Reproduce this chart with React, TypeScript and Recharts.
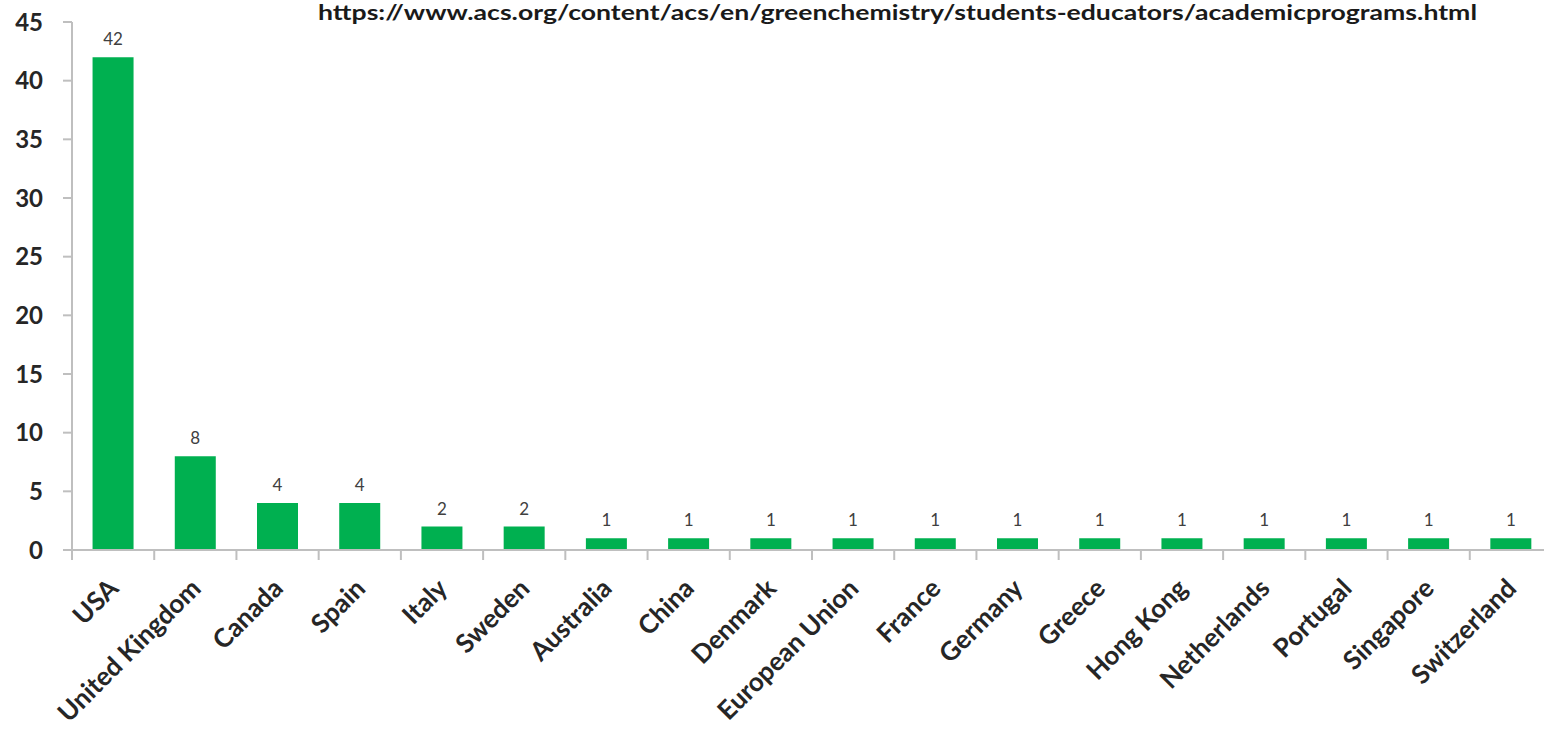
import React from 'react';
import { BarChart, Bar, XAxis, YAxis, LabelList } from 'recharts';

const countries = [
  'USA',
  'United Kingdom',
  'Canada',
  'Spain',
  'Italy',
  'Sweden',
  'Australia',
  'China',
  'Denmark',
  'European Union',
  'France',
  'Germany',
  'Greece',
  'Hong Kong',
  'Netherlands',
  'Portugal',
  'Singapore',
  'Switzerland',
];
const programs = [42, 8, 4, 4, 2, 2, 1, 1, 1, 1, 1, 1, 1, 1, 1, 1, 1, 1];
const yTicks = [0, 5, 10, 15, 20, 25, 30, 35, 40, 45];
const sourceUrl =
  'https://www.acs.org/content/acs/en/greenchemistry/students-educators/academicprograms.html';

const data = countries.map((country, i) => ({ country, programs: programs[i] }));

const CHART_W = 1560;
const CHART_H = 731;
const Y_AXIS_W = 72;
const RIGHT_GAP = 8;
const BAND = (CHART_W - Y_AXIS_W - RIGHT_GAP) / countries.length;
const FONT = 'Lato, "Open Sans", sans-serif';
const AXIS_GREY = '#bfbfbf';

// category label rotated 45deg, plus the tick between categories
const CountryTick = (props: any) => {
  const { x, y, payload } = props;
  const edge = x - BAND / 2;
  const tx = x + 7;
  const ty = y + 40;
  return (
    <g>
      <line x1={edge} y1={y} x2={edge} y2={y + 10} stroke={AXIS_GREY} strokeWidth={2} />
      <text
        x={tx}
        y={ty}
        textAnchor="end"
        transform={`rotate(-45, ${tx}, ${ty})`}
        fill="#262626"
        fontSize={26}
        fontWeight="bold"
        fontFamily={FONT}
      >
        {payload.value}
      </text>
    </g>
  );
};

export default function App() {
  return (
    <div
      style={{
        position: 'absolute',
        left: 0,
        top: 0,
        width: 1544,
        height: 731,
        overflow: 'hidden',
        background: '#fff',
      }}
    >
      <BarChart
        width={CHART_W}
        height={CHART_H}
        data={data}
        margin={{ top: 22, right: RIGHT_GAP, left: 0, bottom: 0 }}
        barCategoryGap="25%"
      >
        <XAxis
          dataKey="country"
          interval={0}
          height={181}
          tickLine={false}
          tickSize={0}
          tickMargin={0}
          axisLine={{ stroke: AXIS_GREY, strokeWidth: 2 }}
          tick={<CountryTick />}
        />
        <YAxis
          domain={[0, 45]}
          ticks={yTicks}
          width={Y_AXIS_W}
          tickSize={9}
          tickMargin={20}
          axisLine={{ stroke: AXIS_GREY, strokeWidth: 2 }}
          tickLine={{ stroke: AXIS_GREY, strokeWidth: 2 }}
          tick={{ fill: '#262626', fontSize: 24, fontWeight: 'bold', fontFamily: FONT }}
        />
        <Bar dataKey="programs" fill="#00b050" isAnimationActive={false}>
          <LabelList
            dataKey="programs"
            position="top"
            offset={12}
            style={{ fill: '#404040', fontSize: 17, fontFamily: FONT }}
          />
        </Bar>
      </BarChart>
      <svg
        width={1544}
        height={40}
        style={{ position: 'absolute', left: 0, top: 0, pointerEvents: 'none' }}
      >
        <text
          x={318}
          y={20}
          textLength={1159}
          lengthAdjust="spacingAndGlyphs"
          fill="#1a1a1a"
          fontSize={21}
          fontWeight="bold"
          fontFamily={FONT}
        >
          {sourceUrl}
        </text>
      </svg>
    </div>
  );
}
